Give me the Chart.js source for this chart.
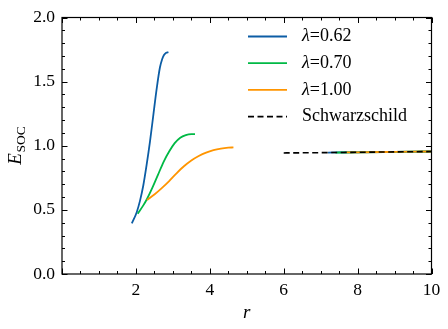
<!DOCTYPE html>
<html>
<head>
<meta charset="utf-8">
<script src="https://cdn.jsdelivr.net/npm/chart.js@4.4.0/dist/chart.umd.min.js"></script>
<style>
  body { margin: 0; background: #fff; }
  canvas { display: block; }
</style>
</head>
<body>
<canvas id="socChart" width="448" height="329"></canvas>
<script>
// E_SOC vs r
const r062 = [1.89, 2.02, 2.11, 2.2, 2.29, 2.38, 2.47, 2.56, 2.65, 2.71, 2.76, 2.82, 2.88];
const e062 = [0.395, 0.48, 0.57, 0.69, 0.85, 1.03, 1.235, 1.44, 1.61, 1.675, 1.708, 1.725, 1.73];

const r070 = [2.05, 2.2, 2.3, 2.45, 2.6, 2.75, 2.9, 3.05, 3.2, 3.35, 3.5, 3.6];
const e070 = [0.47, 0.535, 0.585, 0.675, 0.775, 0.875, 0.955, 1.02, 1.063, 1.083, 1.09, 1.09];

const r100 = [2.3, 2.5, 2.7, 2.9, 3.1, 3.3, 3.5, 3.7, 3.9, 4.1, 4.3, 4.5, 4.64];
const e100 = [0.577, 0.62, 0.67, 0.725, 0.785, 0.84, 0.885, 0.92, 0.947, 0.966, 0.978, 0.985, 0.987];

// outer branches that sit on the Schwarzschild curve
const r062Far = [7.2, 8, 9, 10];
const e062Far = [0.947, 0.949, 0.952, 0.955];
const r070Far = [7.4, 8, 9, 10];
const e070Far = [0.947, 0.949, 0.952, 0.955];
const r100Far = [7.7, 8, 9, 10];
const e100Far = [0.948, 0.949, 0.952, 0.955];

const rSchw = [6, 7, 8, 9, 10];
const eSchw = [0.944, 0.946, 0.949, 0.952, 0.955];

const xTicks = [2, 4, 6, 8, 10];
const yTicks = [0.0, 0.5, 1.0, 1.5, 2.0];

const BLUE = "#0C5DA5", GREEN = "#00B945", ORANGE = "#FF9500";
const SERIF = "'Liberation Serif', 'DejaVu Serif', serif";

const pts = (xs, ys) => xs.map((x, i) => ({ x: x, y: ys[i] }));

function line(label, xs, ys, color, extra) {
    return Object.assign({
        label: label,
        data: pts(xs, ys),
        borderColor: color,
        borderWidth: 1.8,
        pointRadius: 0,
        showLine: true,
        fill: false,
        cubicInterpolationMode: "monotone"
    }, extra || {});
}

const legendItems = [
    { lam: "0.62", color: BLUE },
    { lam: "0.70", color: GREEN },
    { lam: "1.00", color: ORANGE },
    { text: "Schwarzschild", color: "#000", dash: [6, 3.5] }
];

// ticks inside on all four sides, frame, legend and axis titles
const decorations = {
    id: "decorations",
    afterDatasetsDraw(chart) {
        const { ctx, chartArea: a, scales: { x, y } } = chart;
        ctx.save();
        ctx.strokeStyle = "#000";
        ctx.lineWidth = 1;
        ctx.beginPath();
        for (let i = 0; i <= 20; i++) {
            const px = Math.round(x.getPixelForValue(i * 0.5)) + 0.5;
            const len = (i % 4 === 0) ? 5.5 : 3;
            ctx.moveTo(px, a.bottom); ctx.lineTo(px, a.bottom - len);
            ctx.moveTo(px, a.top); ctx.lineTo(px, a.top + len);
        }
        for (let i = 0; i <= 20; i++) {
            const py = Math.round(y.getPixelForValue(i * 0.1)) + 0.5;
            const len = (i % 5 === 0) ? 5.5 : 3;
            ctx.moveTo(a.left, py); ctx.lineTo(a.left + len, py);
            ctx.moveTo(a.right, py); ctx.lineTo(a.right - len, py);
        }
        ctx.stroke();
        ctx.lineWidth = 1.2;
        ctx.strokeRect(a.left, a.top, a.right - a.left, a.bottom - a.top);

        // legend
        ctx.textBaseline = "middle";
        ctx.textAlign = "left";
        legendItems.forEach((it, i) => {
            const yy = 36.5 + i * 26.7;
            ctx.beginPath();
            ctx.strokeStyle = it.color;
            ctx.lineWidth = 1.8;
            ctx.setLineDash(it.dash || []);
            ctx.moveTo(248, yy); ctx.lineTo(287, yy);
            ctx.stroke();
            ctx.setLineDash([]);
            ctx.fillStyle = "#000";
            if (it.lam) {
                ctx.font = "italic 18px " + SERIF;
                ctx.fillText("λ", 302, yy);
                const w = ctx.measureText("λ").width;
                ctx.font = "18px " + SERIF;
                ctx.fillText("=" + it.lam, 302 + w, yy);
            } else {
                ctx.font = "18px " + SERIF;
                ctx.fillText(it.text, 302, yy);
            }
        });

        // axis titles
        ctx.fillStyle = "#000";
        ctx.textAlign = "center";
        ctx.textBaseline = "alphabetic";
        ctx.font = "italic 19px " + SERIF;
        ctx.fillText("r", (a.left + a.right) / 2, 318);

        ctx.translate(21, (a.top + a.bottom) / 2);
        ctx.rotate(-Math.PI / 2);
        ctx.font = "italic 19px " + SERIF;
        const wE = ctx.measureText("E").width;
        ctx.font = "13.5px " + SERIF;
        const wS = ctx.measureText("SOC").width;
        const x0 = -(wE + wS) / 2;
        ctx.textAlign = "left";
        ctx.font = "italic 19px " + SERIF;
        ctx.fillText("E", x0, 0);
        ctx.font = "13.5px " + SERIF;
        ctx.fillText("SOC", x0 + wE + 0.5, 3.5);
        ctx.restore();
    }
};

// first dataset is painted last (on top): dashed curve, then orange, green, blue
const ctx = document.getElementById("socChart").getContext("2d");
new Chart(ctx, {
    type: "scatter",
    data: {
        datasets: [
            line("Schwarzschild", rSchw, eSchw, "#000", { borderDash: [6, 3.5], borderWidth: 1.6 }),
            line("", r100Far, e100Far, ORANGE),
            line("", r070Far, e070Far, GREEN),
            line("", r062Far, e062Far, BLUE),
            line("λ=1.00", r100, e100, ORANGE),
            line("λ=0.70", r070, e070, GREEN),
            line("λ=0.62", r062, e062, BLUE)
        ]
    },
    options: {
        responsive: false,
        animation: false,
        layout: { padding: { left: 0, right: 16.5, top: 14, bottom: 0 } },
        plugins: { legend: { display: false }, tooltip: { enabled: false } },
        scales: {
            x: {
                type: "linear",
                min: 0, max: 10,
                afterFit: s => { s.height = 55; },
                afterBuildTicks: s => { s.ticks = xTicks.map(v => ({ value: v })); },
                grid: { display: false, drawTicks: false },
                border: { display: false },
                ticks: {
                    padding: 6,
                    color: "#000",
                    font: { family: SERIF, size: 17.5 },
                    callback: v => String(v)
                }
            },
            y: {
                type: "linear",
                min: 0, max: 2,
                afterFit: s => { s.width = 62; },
                afterBuildTicks: s => { s.ticks = yTicks.map(v => ({ value: v })); },
                grid: { display: false, drawTicks: false },
                border: { display: false },
                ticks: {
                    padding: 7,
                    color: "#000",
                    font: { family: SERIF, size: 17.5 },
                    callback: v => Number(v).toFixed(1)
                }
            }
        }
    },
    plugins: [decorations]
});
</script>
</body>
</html>
